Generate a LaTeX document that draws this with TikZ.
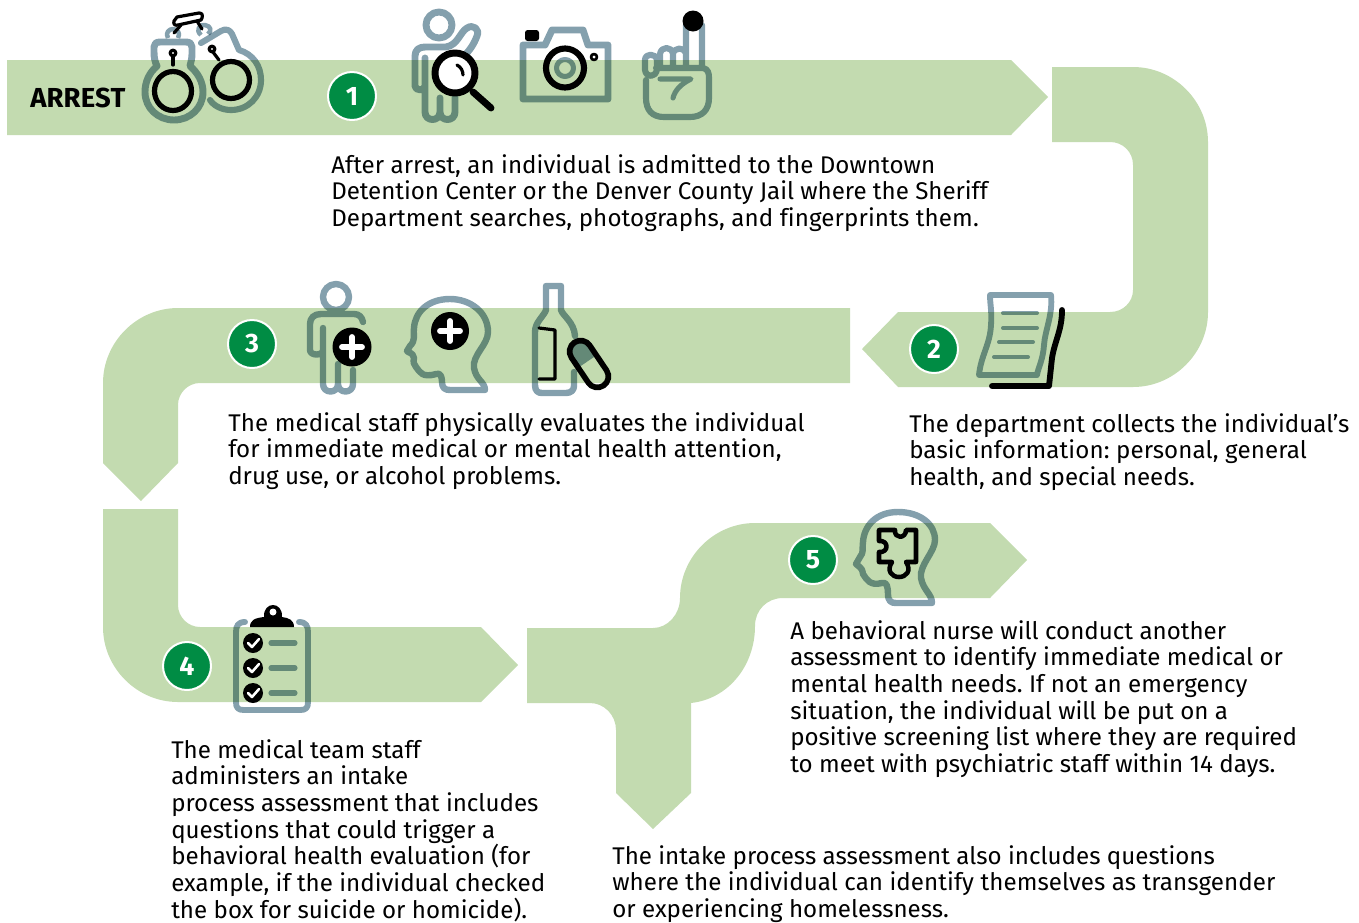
\documentclass[tikz,border=0pt]{standalone}
\usepackage{fontspec}
\setmainfont{Fira Sans}[Ligatures=NoCommon]
\definecolor{band}{HTML}{C3DBB0}
\definecolor{gicon}{HTML}{84A0AD}
\definecolor{gbadge}{HTML}{008C44}
\newcommand{\lsp}[2]{{\addfontfeature{LetterSpace=#1}#2}}
\frenchspacing
\tikzset{
 x=0.75pt,y=-0.75pt,
 bandshape/.style={fill=band,draw=none},
 gi/.style={draw=gicon,line width=5.2pt,line cap=round,line join=round,fill=none},
 gl/.style={draw=gicon,line width=3.4pt,line cap=round,line join=round,fill=none},
 bk/.style={draw=black,line width=4pt,line cap=round,line join=round,fill=none},
 bkt/.style={draw=black,line width=2.4pt,line cap=round,line join=round,fill=none},
 badge/.style={circle,fill=gbadge,draw=white,line width=1.5pt,minimum size=36pt,inner sep=0pt,text=white,font=\fontsize{20pt}{20pt}\selectfont\bfseries},
 para/.style={anchor=north west,inner sep=0pt,align=left,font=\fontsize{18.1pt}{20pt}\selectfont\frenchspacing},
 mult/.style={blend mode=multiply},
 plus/.style={draw=white,line width=4.4pt,line cap=round},
}
\begin{document}
\begin{tikzpicture}
\useasboundingbox (0,0) rectangle (1359,922);
% bands
\fill[bandshape] (7,60) -- (1011,60) -- (1048,97) -- (1011,135) -- (7,135) -- cycle;
\fill[bandshape] (1052,67) -- (1133,67) .. controls (1174,67) and (1208,101) .. (1208,142) -- (1208,312) .. controls (1208,353) and (1174,387) .. (1133,387) -- (898,387) -- (862,349) -- (898,312) -- (1110,312) .. controls (1123,312) and (1133,302) .. (1133,290) -- (1133,165) .. controls (1133,152) and (1123,142) .. (1110,142) -- (1052,142) -- cycle;
\fill[bandshape] (850,308) -- (178,308) .. controls (137,308) and (103,342) .. (103,383) -- (103,463) -- (141,501) -- (178,463) -- (178,405) .. controls (178,393) and (188,383) .. (200,383) -- (850,383) -- cycle;
\fill[bandshape] (103,509) -- (178,509) -- (178,605) .. controls (178,617) and (188,627) .. (200,627) -- (481,627) -- (518,665) -- (481,702) -- (178,702) .. controls (137,702) and (103,668) .. (103,627) -- cycle;
\fill[bandshape] (527,628) -- (653,628) .. controls (668,628) and (680,614) .. (680,598) .. controls (680,557) and (714,523) .. (755,523) -- (990,523) -- (1027,560) -- (990,598) -- (783,598) .. controls (767,598) and (755,610) .. (755,626) .. controls (755,666) and (728,699) .. (691,703) -- (691,793) -- (653,829) -- (616,793) -- (616,730) .. controls (616,715) and (604,703) .. (590,703) -- (527,703) -- cycle;
% badges
\node[badge] (b1) at (352,96) {1};
\node[badge] (b2) at (934,349) {2};
\node[badge] (b3) at (252,344) {3};
\node[badge] (b4) at (187,666) {4};
\node[badge] (b5) at (813,560) {5};
% arrest
\node[anchor=base west,inner sep=0pt,font=\fontsize{20.6pt}{20pt}\selectfont\bfseries] (arrest) at (30,107) {\lsp{0.6}{ARREST}};
% handcuffs
\begin{scope}[mult]
\draw[gi] (157,66) .. controls (155,62) and (154,58) .. (154,52) -- (154,47) .. controls (154,44) and (156,42) .. (160,42) -- (186,42) .. controls (190,42) and (192,44) .. (192,47) -- (192,54) .. controls (192,58) and (191,62) .. (190,66) .. controls (198,73) and (203,82) .. (203,92) .. controls (203,108) and (190,120) .. (174,120) .. controls (158,120) and (145,108) .. (145,92) .. controls (145,82) and (149,73) .. (157,66) -- cycle;
\draw[gi,line width=4.6pt] (201,43) -- (221,31) .. controls (226,28) and (230,30) .. (232,34) -- (239,50) .. controls (253,54) and (261,66) .. (261,80) .. controls (261,97) and (248,110) .. (231,110) .. controls (222,110) and (214,106) .. (210,100);
\draw[gi,line width=3.4pt,line cap=butt] (168,38) .. controls (165,33) and (169,29) .. (173,29) .. controls (177,29) and (181,33) .. (178,38);
\draw[gi,line width=3.4pt,line cap=butt] (201,35) .. controls (195,30) and (200,24) .. (205,25) .. controls (211,26) and (212,31) .. (208,34);
\end{scope}
\draw[bk,line width=3.9pt] (173,91) ellipse (18.5 and 19.5);
\draw[bk,line width=3.9pt] (231,80) ellipse (18.5 and 18.5);
\draw[bkt] (173,56) -- (173,65);
\draw[bkt,fill=white] (173,53) circle (2.8);
\draw[bkt] (213,52) -- (219,60);
\draw[bkt,fill=white] (212,49) circle (2.8);
\draw[bkt] (177,17) -- (199,13) .. controls (202,13) and (203,15) .. (202,18) -- (201,20) -- (178,25) .. controls (175,26) and (173,24) .. (174,21) -- cycle;
\draw[bkt] (181,25) -- (174,33);
\draw[bkt] (197,21) -- (202,29);
% person with lens
\begin{scope}[mult]
\draw[gi] (439,25) circle (13)
 (464,56) .. controls (470,50) and (474,44) .. (477,36) .. controls (480,29) and (473,24) .. (467,28) .. controls (460,32) and (458,45) .. (446,47) -- (425,47) .. controls (419,47) and (415,50) .. (415,56) -- (415,86) .. controls (415,91) and (425,91) .. (425,86) -- (425,58)
 (425,86) -- (425,112) .. controls (425,122) and (440,122) .. (440,112) -- (440,98)
 (440,112) .. controls (440,122) and (455,122) .. (455,112) -- (455,97);
\end{scope}
\draw[draw=black,fill=white,line width=5.2pt] (455,73) circle (20);
\draw[draw=black,line width=5.2pt,line cap=round] (473,92) -- (491,108);
\draw[bkt] (457,65) .. controls (461,67) and (463,71) .. (463,75);
% camera
\begin{scope}[mult]
\draw[gi] (523,45) -- (545,45) -- (552,30) -- (583,30) -- (588,45) -- (608,45) -- (608,99) -- (523,99) -- cycle;
\draw[gi,line width=3.8pt] (565,68) ellipse (8.5 and 8.5);
\end{scope}
\draw[draw=black,line width=4.6pt] (565,68) ellipse (19 and 19.5);
\draw[bkt,line width=2pt] (594,57) circle (3);
\fill[black,rounded corners=2pt] (525,30) rectangle (539,41);
% hand
\begin{scope}[mult]
\draw[gi,line width=4.6pt] (686,66) -- (686,25) (702,66) -- (702,25)
 (656,68) -- (703,68) .. controls (708,69) and (709,73) .. (709,78) -- (709,98) .. controls (709,110) and (702,117) .. (690,117) -- (664,117) .. controls (652,117) and (646,110) .. (646,98) -- (646,80)
 (657,69) -- (657,60) .. controls (656,53) and (645,53) .. (645,60) -- (645,70) .. controls (646,78) and (656,78) .. (657,69)
 (660,66) -- (660,54) .. controls (661,46) and (672,46) .. (673,54) -- (673,66)
 (673,54) .. controls (674,47) and (684,47) .. (686,53);
\draw[gi,line width=3.8pt] (660,79) -- (691,79) .. controls (681,84) and (675,90) .. (673,98);
\end{scope}
\fill[black] (693,21) circle (10.5);
% doc
\begin{scope}[mult]
\draw[gi,line width=4.4pt] (990,295) -- (1051,295) .. controls (1053,315) and (1045,330) .. (1044,345) .. controls (1043,360) and (1038,368) .. (1037,375) -- (979,375) .. controls (981,355) and (990,345) .. (991,325) .. controls (992,310) and (990,305) .. (990,295) -- cycle;
\draw[gl,line width=3pt] (1003,313) -- (1037,313);
\draw[gl,line width=3pt] (1003,328) -- (1037,328);
\draw[gl,line width=3pt] (999,342) -- (1033,342);
\draw[gl,line width=3pt] (994,357) -- (1028,357);
\end{scope}
\draw[bk,line width=4.4pt] (1062,310) .. controls (1062,330) and (1055,340) .. (1052,358) -- (1049,386) -- (992,386);
% person plus
\begin{scope}[mult]
\draw[gi,line width=4.8pt] (336,297) circle (13)
 (363,322) .. controls (362,317) and (359,314) .. (354,314) -- (321,314) .. controls (314,314) and (310,318) .. (310,324) -- (310,350) .. controls (310,356) and (323,356) .. (323,350) -- (323,328)
 (323,350) -- (323,384) .. controls (323,394) and (338,394) .. (338,384) -- (338,364)
 (338,384) .. controls (338,394) and (353,394) .. (353,384) -- (353,370);
\end{scope}
\fill[black] (352,347) circle (19.5);
\draw[plus] (342,347) -- (362,347) (352,337) -- (352,357);
% head plus
\begin{scope}[mult]
\draw[gi,line width=4.8pt] (416,367) .. controls (420,372) and (422,378) .. (436,374) .. controls (441,372) and (442,378) .. (442,382) .. controls (442,388) and (445,390) .. (450,390) -- (485,390) .. controls (485,382) and (476,380) .. (474,368) .. controls (472,355) and (488,345) .. (488,332) .. controls (488,312) and (470,299) .. (450,299) .. controls (428,299) and (415,312) .. (414,328) .. controls (413,336) and (416,340) .. (410,346) -- (407,351) .. controls (408,353) and (413,352) .. (414,358) .. controls (413,362) and (414,365) .. (416,367) -- cycle;
\end{scope}
\fill[black] (450,331) circle (19);
\draw[plus] (440,331) -- (460,331) (450,321) -- (450,341);
% bottle
\begin{scope}[mult]
\draw[gi,line width=4.8pt] (575,336) .. controls (574,322) and (563,316) .. (561,310) -- (561,286) -- (546,286) -- (546,310) .. controls (544,316) and (535,322) .. (535,332) -- (535,385) .. controls (535,391) and (538,393) .. (542,393) -- (566,393) .. controls (571,393) and (574,390) .. (574,386) -- (574,372);
\end{scope}
\draw[bkt] (539,328) -- (555,330) -- (555,379) -- (539,379);
% pill
\begin{scope}[shift={(589,364)},rotate=34]
\begin{scope}
\clip[rounded corners=10pt] (-13,-27) rectangle (13,27);
\fill[gicon,mult] (-13,-27) rectangle (13,-3);
\end{scope}
\draw[draw=black,line width=4.2pt,rounded corners=8.2pt] (-11,-26) rectangle (11,26);
\end{scope}
% clipboard
\begin{scope}[mult]
\draw[gi,line width=4.4pt] (245,622) .. controls (238,622) and (236,626) .. (236,632) -- (236,702) .. controls (236,708) and (238,710) .. (244,710) -- (300,710) .. controls (306,710) and (308,708) .. (308,702) -- (308,632) .. controls (308,626) and (306,622) .. (299,622);
\draw[gi,line width=3.8pt] (271,643) -- (295,643) (271,668) -- (295,668) (271,693) -- (295,693);
\end{scope}
\fill[black] (250,627) .. controls (250,620) and (255,618) .. (264,617) .. controls (263,601) and (283,601) .. (282,617) .. controls (289,618) and (294,620) .. (294,627) -- cycle;
\fill[white] (273,612) circle (3.5);
\foreach \yy in {643,668,693}{
 \fill[black] (253,\yy) circle (10);
 \draw[draw=white,line width=1.9pt,line cap=round,line join=round] (248,\yy) -- (252,\yy+4) -- (259,\yy-4);
}
% head puzzle
\begin{scope}[mult]
\draw[gi,line width=4.8pt] (863,574) .. controls (867,580) and (870,586) .. (882,583) .. controls (887,581) and (888,588) .. (888,594) .. controls (888,601) and (891,603) .. (896,603) -- (932,603) .. controls (932,594) and (923,590) .. (921,578) .. controls (919,565) and (935,552) .. (935,540) .. controls (935,524) and (920,512) .. (898,512) .. controls (876,512) and (864,526) .. (863,542) .. controls (862,550) and (864,552) .. (860,557) -- (856,564) .. controls (858,567) and (862,566) .. (863,574) -- cycle;
\end{scope}
\draw[draw=black,line width=3.4pt,line join=round] (879,530) -- (895,530) .. controls (894,539) and (906,539) .. (906,530) -- (916,530) -- (916,562) -- (906,562) .. controls (912,571) and (906,577) .. (899,577) .. controls (892,577) and (886,571) .. (892,562) -- (879,562) -- (879,552) .. controls (889,553) and (889,540) .. (879,541) -- cycle;
% texts
\node[para] (t1) at (331,154) {\lsp{0.2}{After arrest, an individual is admitted to the Downtown}\\\lsp{-0.15}{Detention Center or the Denver County Jail where the Sheriff}\\\lsp{0.5}{Department searches, photographs, and fingerprints them.}};
\node[para] (t2) at (909,413) {The department collects the individual’s\\\lsp{0.45}{basic information: personal, general}\\health, and special needs.};
\node[para] (t3) at (228,412) {\lsp{0.45}{The medical staff physically evaluates the individual}\\\lsp{0.35}{for immediate medical or mental health attention,}\\drug use, or alcohol problems.};
\node[para] (t4) at (171,739) {The medical team staff\\administers an intake\\process assessment that includes\\questions that could trigger a\\behavioral health evaluation (for\\example, if the individual checked\\the box for suicide or homicide).};
\node[para] (t5) at (790,620) {A behavioral nurse will conduct another\\assessment to identify immediate medical or\\\lsp{0.3}{mental health needs. If not an emergency}\\situation, the individual will be put on a\\positive screening list where they are required\\to meet with psychiatric staff within 14 days.};
\node[para] (t6) at (612,845) {The intake process assessment also includes questions\\\lsp{0.3}{where the individual can identify themselves as transgender}\\or experiencing homelessness.};
\end{tikzpicture}
\end{document}
